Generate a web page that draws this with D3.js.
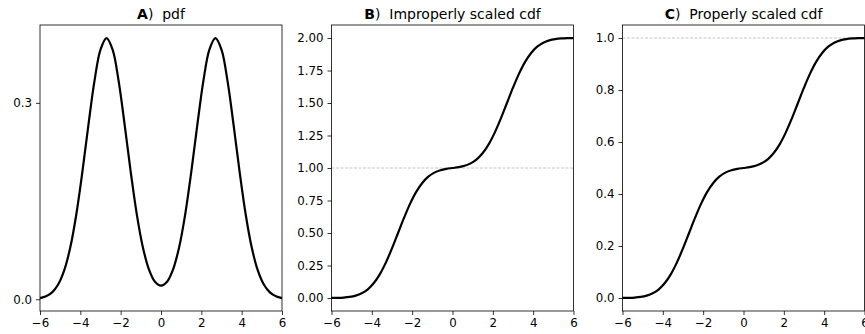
<!DOCTYPE html>
<html lang="en">
<head>
<meta charset="UTF-8">
<script src="https://cdn.jsdelivr.net/npm/d3@7"></script>
<style>
  body { margin: 0; background: #fff; }
  text { font-family: "DejaVu Sans", sans-serif; }
</style>
</head>
<body>
<script>
// x grid the curves were read at (-6 .. 6, step 0.3)
var xs = d3.range(41).map(function(k){ return +(-6 + 0.3 * k).toFixed(1); });

// A) pdf
var pdfVals = [0.00172, 0.00443, 0.01042, 0.02239, 0.04398, 0.07895, 0.12952, 0.19419, 0.26609, 0.33322,
  0.38139, 0.39894, 0.38139, 0.33322, 0.26611, 0.19425, 0.12972, 0.07956, 0.04570, 0.02682,
  0.02084, 0.02682, 0.04570, 0.07956, 0.12972, 0.19425, 0.26611, 0.33322, 0.38139, 0.39894,
  0.38139, 0.33322, 0.26609, 0.19419, 0.12952, 0.07895, 0.04398, 0.02239, 0.01042, 0.00443, 0.00172];

// B) improperly scaled cdf
var cdfRaw = [0.00048, 0.00135, 0.00347, 0.00820, 0.01786, 0.03593, 0.06681, 0.11507, 0.18406, 0.27425,
  0.38209, 0.50000, 0.61791, 0.72575, 0.81594, 0.88494, 0.93324, 0.96423, 0.98262, 0.99315,
  1.00000, 1.00685, 1.01738, 1.03577, 1.06676, 1.11506, 1.18406, 1.27425, 1.38209, 1.50000,
  1.61791, 1.72575, 1.81594, 1.88493, 1.93319, 1.96407, 1.98214, 1.99180, 1.99653, 1.99865, 1.99952];

// C) properly scaled cdf
var cdfNorm = [0.00024, 0.00068, 0.00174, 0.00410, 0.00893, 0.01797, 0.03341, 0.05754, 0.09203, 0.13713,
  0.19105, 0.25000, 0.30896, 0.36288, 0.40797, 0.44247, 0.46662, 0.48212, 0.49131, 0.49658,
  0.50000, 0.50343, 0.50869, 0.51789, 0.53338, 0.55753, 0.59203, 0.63713, 0.69105, 0.75000,
  0.80896, 0.86288, 0.90797, 0.94247, 0.96660, 0.98204, 0.99107, 0.99590, 0.99827, 0.99933, 0.99976];

var xTicks = [-6, -4, -2, 0, 2, 4, 6];
var ticksA = [0.0, 0.3];
var ticksB = [0.00, 0.25, 0.50, 0.75, 1.00, 1.25, 1.50, 1.75, 2.00];
var ticksC = [0.0, 0.2, 0.4, 0.6, 0.8, 1.0];

var panels = [
  {letter: "A", title: "pdf", vals: pdfVals, dom: [-0.018, 0.419], ticks: ticksA, fmt: ".1f", ref: null, left: 40},
  {letter: "B", title: "Improperly scaled cdf", vals: cdfRaw, dom: [-0.1, 2.1], ticks: ticksB, fmt: ".2f", ref: 1, left: 331.5},
  {letter: "C", title: "Properly scaled cdf", vals: cdfNorm, dom: [-0.05, 1.05], ticks: ticksC, fmt: ".1f", ref: 1, left: 622.5}
];

var W = 865, H = 334, pw = 242, plotTop = 25, plotBottom = 311;

var svg = d3.select("body").append("svg")
  .attr("width", W)
  .attr("height", H);

panels.forEach(function(p){
  var x = d3.scaleLinear().domain([-6, 6]).range([p.left, p.left + pw]);
  var y = d3.scaleLinear().domain(p.dom).range([plotBottom, plotTop]);
  var g = svg.append("g");

  if (p.ref !== null) {
    g.append("line")
      .attr("x1", x(-6)).attr("x2", x(6))
      .attr("y1", y(p.ref)).attr("y2", y(p.ref))
      .attr("stroke", "#b8b8b8")
      .attr("stroke-width", 0.8)
      .attr("stroke-dasharray", "3,1.5");
  }

  var line = d3.line()
    .x(function(d, i){ return x(xs[i]); })
    .y(function(d){ return y(d); })
    .curve(d3.curveCatmullRom.alpha(0.5));

  g.append("path")
    .datum(p.vals)
    .attr("d", line)
    .attr("fill", "none")
    .attr("stroke", "#000")
    .attr("stroke-width", 2.2);

  var xAxis = d3.axisBottom(x).tickValues(xTicks).tickSize(4).tickPadding(4)
    .tickFormat(function(d){ return d < 0 ? "\u2212" + Math.abs(d) : d; });
  var yAxis = d3.axisLeft(y).tickValues(p.ticks).tickSize(4).tickPadding(4)
    .tickFormat(d3.format(p.fmt));

  var gx = g.append("g").attr("transform", "translate(0," + plotBottom + ")").call(xAxis);
  var gy = g.append("g").attr("transform", "translate(" + p.left + ",0)").call(yAxis);
  [gx, gy].forEach(function(a){
    a.select(".domain").remove();
    a.selectAll("text").attr("font-size", 11.8).attr("font-family", "DejaVu Sans").attr("fill", "#000");
    a.selectAll("line").attr("stroke", "#000").attr("stroke-width", 0.8);
  });

  // frame
  g.append("rect")
    .attr("x", p.left).attr("y", plotTop)
    .attr("width", pw).attr("height", plotBottom - plotTop)
    .attr("fill", "none")
    .attr("stroke", "#000")
    .attr("stroke-width", 0.8);

  var t = g.append("text")
    .attr("x", p.left + pw / 2)
    .attr("y", 19)
    .attr("text-anchor", "middle")
    .attr("font-size", 14)
    .attr("xml:space", "preserve");
  t.append("tspan").attr("font-weight", "bold").text(p.letter);
  t.append("tspan").text(")  " + p.title);
});
</script>
</body>
</html>
